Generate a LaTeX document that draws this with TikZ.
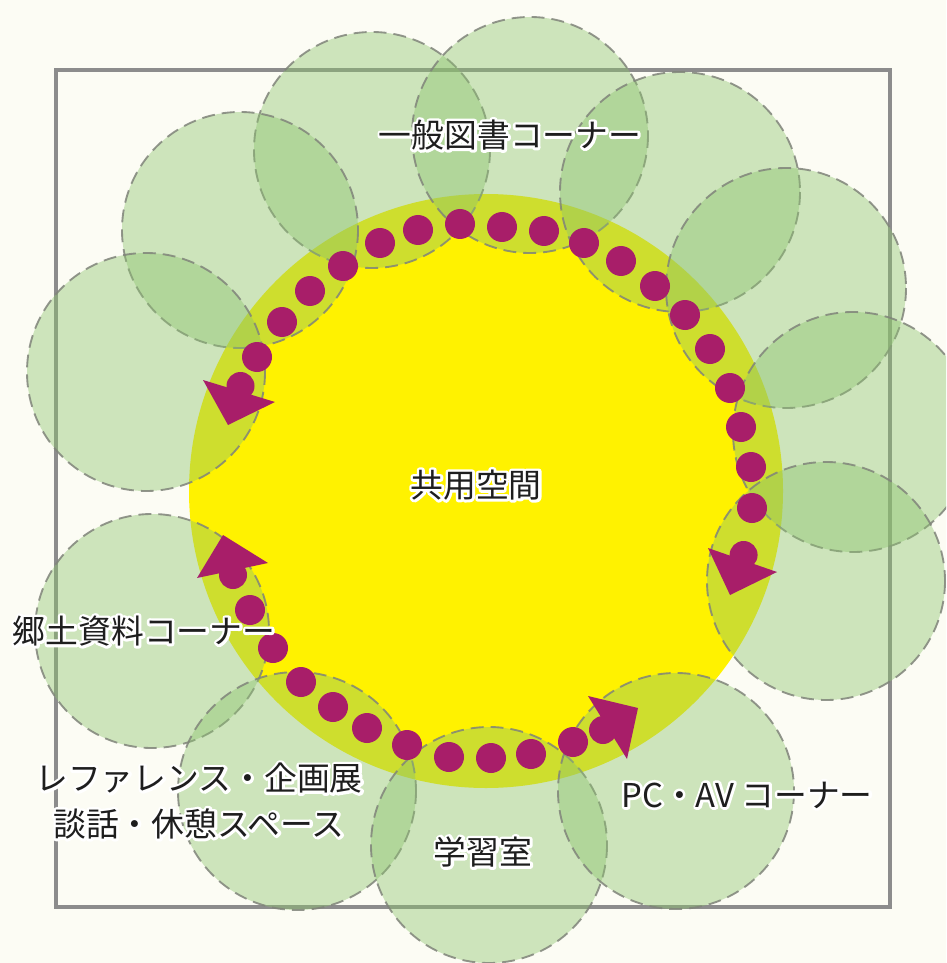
\documentclass[tikz,border=0pt]{standalone}
\usepackage{fontspec}
\newfontfamily\cjk{Noto Sans CJK JP}
\usetikzlibrary{calc}
\definecolor{bgcol}{RGB}{252,252,244}
\definecolor{framegray}{RGB}{140,140,140}
\definecolor{sunyellow}{RGB}{255,242,0}
\definecolor{leafgreen}{RGB}{140,195,110}
\definecolor{dashgray}{RGB}{128,132,122}
\definecolor{dotmag}{RGB}{168,30,105}
\definecolor{inkblack}{RGB}{30,30,30}
\tikzset{
  zone/.style={fill=leafgreen, fill opacity=0.42, draw=dashgray, draw opacity=0.85,
    line width=1.6pt, dash pattern=on 11pt off 6pt},
  pathdot/.style={fill=dotmag},
  lbl/.style={font=\cjk\fontsize{28}{39}\selectfont, inner sep=0pt, align=center, text=inkblack},
}
\newcommand\haloon{\special{pdf:literal direct 1 1 1 RG 1 1 1 rg 2 Tr 1 J 1 j 4.6 w}}
\newcommand\halooff{\special{pdf:literal direct 0 Tr 1 w 0 J 0 j}}
\newcommand\halolabel[3]{%
  \node[lbl,text=white] (#1h) at (#2) {\haloon #3\halooff};
  \node[lbl] (#1) at (#2) {#3};}
\begin{document}
\begin{tikzpicture}[x=0.03cm,y=-0.03cm]
\useasboundingbox (0,0) rectangle (946,963);
\fill[bgcol] (0,0) rectangle (946,963);
\clip (0,0) rectangle (946,963);
% frame
\draw[framegray, line width=3.4pt] (56,70) rectangle (890,907);
% shared space
\fill[sunyellow] (486,491) circle[radius=297];
% zones
\foreach \cx/\cy/\r in {372/150/118, 530/135/118, 680/192/120, 786/288/120,
  853/432/120, 826/581/119, 240/230/118, 146/372/119, 152/631/117,
  297/791/119, 489/845/118, 676/791/118}
  \path[zone] (\cx,\cy) circle[radius=\r];
% dots
\foreach \p in {(257,357),(282,322),(310,291),(343,266),(380,243),(418,230),
  (460,224),(502,227),(544,231),(584,243),(621,261),(655,286),(685,315),
  (710,349),(730,388),(741,427),(751,467),(752,508),
  (250,610),(273,648),(301,682),(333,707),(367,728),(407,745),(449,757),
  (491,758),(531,754),(573,742)}
  \fill[pathdot] \p circle[radius=15];
% arrow heads
\fill[pathdot] (240.5,386) circle[radius=14];
\fill[pathdot] (203,380) -- (228,425) -- (275,402) -- cycle;
\fill[pathdot] (743.6,555) circle[radius=14];
\fill[pathdot] (708,548) -- (730,595) -- (777,572) -- cycle;
\fill[pathdot] (233,575) circle[radius=14];
\fill[pathdot] (197,578) -- (223,535) -- (268,563) -- cycle;
\fill[pathdot] (603,730) circle[radius=14];
\fill[pathdot] (588,696) -- (638,708) -- (627,759) -- cycle;
% labels
\halolabel{general}{510,135}{一般図書コーナー}
\halolabel{shared}{476,485}{共用空間}
\halolabel{local}{144,631}{郷土資料コーナー}
\halolabel{reference}{199,801}{レファレンス・企画展\\談話・休憩スペース}
\halolabel{study}{483,852}{学習室}
\halolabel{pcav}{747,795}{PC・AV コーナー}
\end{tikzpicture}
\end{document}
